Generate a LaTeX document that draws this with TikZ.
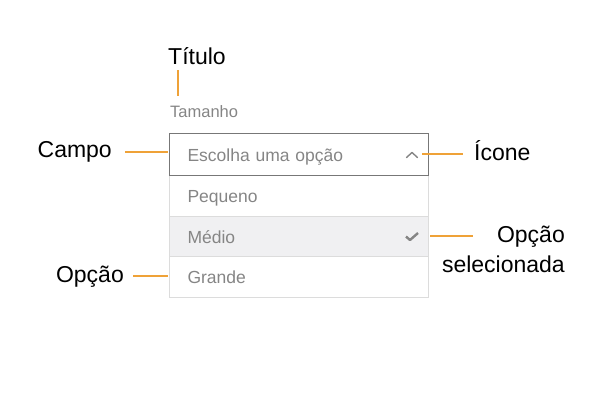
\documentclass[tikz,border=0pt]{standalone}
\usepackage{fontspec}
\setmainfont{Liberation Sans}
\usetikzlibrary{positioning}
\definecolor{guia}{HTML}{EFA238}
\definecolor{texto}{HTML}{858585}
\definecolor{borda}{HTML}{777777}
\definecolor{linhaclara}{HTML}{DCDCDC}
\definecolor{selecao}{HTML}{F0F0F2}
\tikzset{
  rotulo/.style={inner sep=0pt,font=\fontsize{23}{29.5}\selectfont},
  guiaseta/.style={draw=guia,line width=1.8pt},
  linha/.style={draw=linhaclara,line width=1pt,minimum height=40.5pt,
    text width=223pt,inner xsep=18pt,inner ysep=0pt,outer sep=0pt,
    text height=14pt,text depth=0pt,align=left,text=texto,
    font=\fontsize{17.5}{20}\selectfont},
  caixa/.style={linha,draw=borda,minimum height=42pt}
}
\begin{document}
\begin{tikzpicture}[x=1pt,y=-1pt]
\useasboundingbox (0,0) rectangle (600,400);
% campo e lista de opcoes
\node[caixa,anchor=north west] (campo) at (169.5,133.5) {Escolha uma opção};
\node[linha,below=0pt of campo] (pequeno) {Pequeno};
\node[linha,fill=selecao,below=0pt of pequeno] (medio) {Médio};
\node[linha,below=0pt of medio] (grande) {Grande};
\draw[borda,line width=1pt] (campo.south west) rectangle (campo.north east);
% icones
\coordinate (chev) at (412,154);
\draw[texto,line width=1.4pt,line cap=round,line join=round]
  ([shift={(-5.5,3.5)}]chev) -- ([shift={(0,-1.5)}]chev) -- ([shift={(5.5,3.5)}]chev);
\coordinate (check) at (412,236);
\draw[texto,line width=2.4pt,line join=round]
  ([shift={(-6,0.5)}]check) -- ([shift={(-2,4)}]check) -- ([shift={(6,-3)}]check);
% titulo
\node[inner sep=0pt,anchor=base west,text=texto,font=\fontsize{16.5}{19}\selectfont]
  (tamanho) at (170,117) {Tamanho};
\node[rotulo,anchor=base west] (titulo) at (168,64) {Título};
% rotulos
\node[rotulo,anchor=base east] (lblcampo) at (112,157) {Campo};
\node[rotulo,anchor=base west] (lblicone) at (474,160.5) {Ícone};
\node[rotulo,anchor=base east] (lblopcao) at (124,282) {Opção};
\node[rotulo,anchor=north east,align=right] (lblsel) at (565,226) {Opção\\selecionada};
% guias
\coordinate (tita) at (178,70);
\draw[guiaseta,shorten >=8.9pt] (tita) -- (tita |- tamanho.north);
\coordinate (inicampo) at (125,152);
\draw[guiaseta,shorten >=1.5pt] (inicampo) -- (inicampo -| campo.west);
\draw[guiaseta,shorten <=10pt,shorten >=11pt] (chev) -- (chev -| lblicone.west);
\coordinate (fimsel) at (472.7,236);
\draw[guiaseta,shorten <=1.5pt] (medio.east) -- (medio.east -| fimsel);
\coordinate (iniopcao) at (133,276);
\draw[guiaseta,shorten >=1.5pt] (iniopcao) -- (iniopcao -| grande.west);
\end{tikzpicture}
\end{document}
